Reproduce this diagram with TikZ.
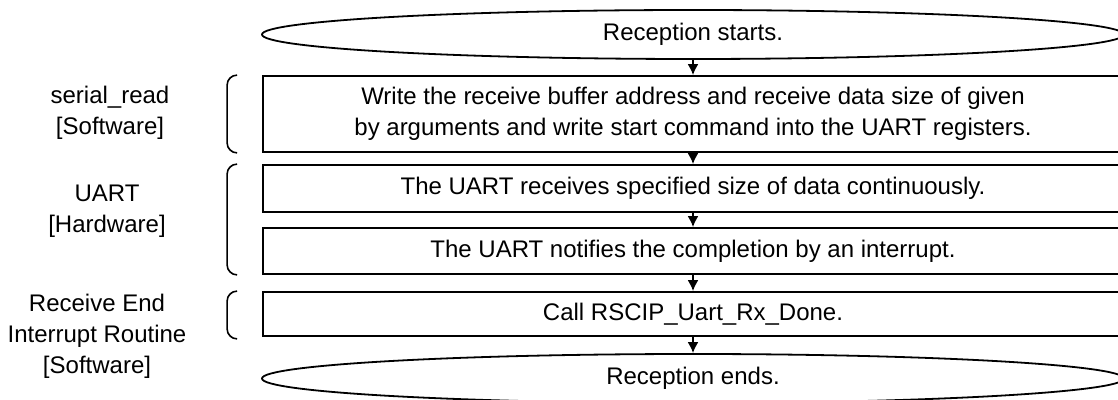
\documentclass[tikz,border=0pt]{standalone}
\usepackage{fontspec}
\setmainfont{Liberation Sans}
\usetikzlibrary{shapes.geometric,arrows.meta}
\begin{document}
\begin{tikzpicture}[x=0.5pt,y=-0.5pt,every node/.style={font=\fontsize{12}{15.5}\selectfont}]
			% Styles
			\tikzstyle{fleche}=[->,>={Latex[length=5.5pt,width=5.5pt]},line width=0.9pt]
			\tikzstyle{terminal}=[ellipse,draw,line width=0.9pt,minimum width=431pt,minimum height=24.5pt,inner sep=0pt]
			\tikzstyle{etape}=[rectangle,draw,line width=0.9pt,minimum width=430pt,align=center,inner sep=0pt]
			\tikzstyle{accolade}=[line width=0.8pt,rounded corners=5pt]
			\tikzstyle{commentaire}=[align=center]
			% Dimensions
			\def\Colonne{693}
			\def\Bord{12.5pt}
			\def\Dos{17.5pt}
			\useasboundingbox (0,0) rectangle (1118,400);
			% Noeuds
			\node[terminal] (debut) at (\Colonne,34.5) {Reception starts.};
			\node[etape,minimum height=38pt] (ecrire) at (\Colonne,114) {Write the receive buffer address and receive data size of given\\by arguments and write start command into the UART registers.};
			\node[etape,minimum height=23.5pt] (recevoir) at (\Colonne,188.5) {The UART receives specified size of data continuously.};
			\node[etape,minimum height=23pt] (notifier) at (\Colonne,251) {The UART notifies the completion by an interrupt.};
			\node[etape,minimum height=22pt] (appel) at (\Colonne,314) {Call RSCIP\_Uart\_Rx\_Done.};
			\node[terminal] (fin) at (\Colonne,378.5) {Reception ends.};
			%
			\node[commentaire] (logiciel) at (110,112.5) {serial\_read\\{[Software]}};
			\node[commentaire] (materiel) at (107,211) {UART\\{[Hardware]}};
			\node[commentaire] (routine) at (97,336) {Receive End\\Interrupt Routine\\{[Software]}};
			% Accolades
			\draw[accolade] ([xshift=-\Bord]ecrire.north west) -- ([xshift=-\Dos]ecrire.north west) -- ([xshift=-\Dos]ecrire.south west) -- ([xshift=-\Bord]ecrire.south west);
			\draw[accolade] ([xshift=-\Bord]recevoir.north west) -- ([xshift=-\Dos]recevoir.north west) -- ([xshift=-\Dos]notifier.south west) -- ([xshift=-\Bord]notifier.south west);
			\draw[accolade] ([xshift=-\Bord]appel.north west) -- ([xshift=-\Dos]appel.north west) -- ([xshift=-\Dos,yshift=-1pt]appel.south west) -- ([xshift=-\Bord,yshift=-1pt]appel.south west);
			% Arcs
			\draw[fleche] (debut.south)--(ecrire.north);
			\draw[fleche] (ecrire.south)--(recevoir.north);
			\draw[fleche] (recevoir.south)--(notifier.north);
			\draw[fleche] (notifier.south)--(appel.north);
			\draw[fleche] (appel.south)--(fin.north);
		\end{tikzpicture}
\end{document}
